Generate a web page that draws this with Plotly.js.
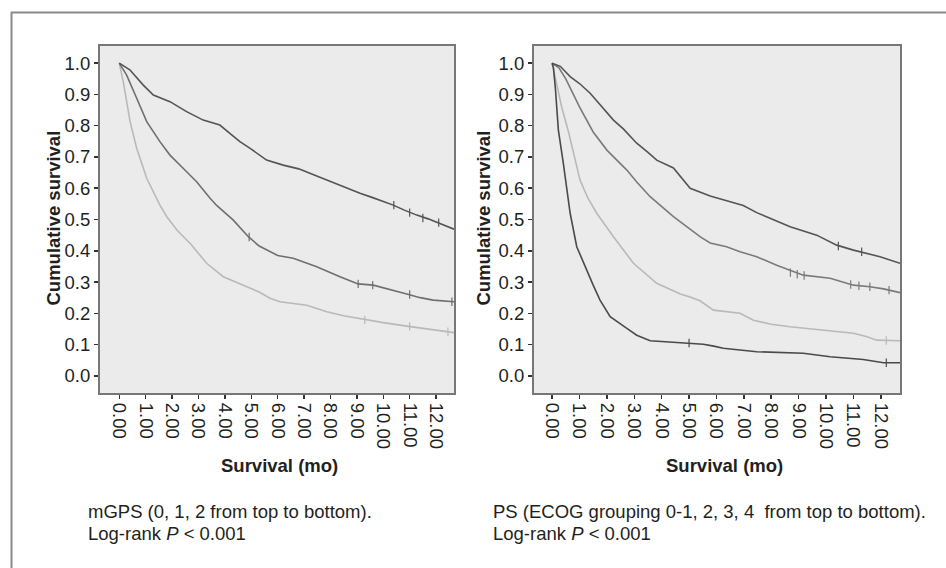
<!DOCTYPE html>
<html>
<head>
<meta charset="utf-8">
<script src="https://cdn.plot.ly/plotly-3.0.1.min.js"></script>
<style>html,body{margin:0;padding:0;background:#fff;}#chart{width:946px;height:568px;}</style>
</head>
<body>
<div id="chart"></div>
<script>
// ---- Left panel: mGPS ----
const mgps0T = [0, 0.4, 0.91, 1.29, 1.92, 2.55, 3.18, 3.81, 4.2, 4.57, 5.0, 5.58, 6.21, 6.8, 7.22, 7.7, 8.11, 8.6, 9.12, 9.6, 10.38, 10.8, 11.27, 11.7, 12.15, 12.68];
const mgps0S = [1, 0.979, 0.930, 0.898, 0.877, 0.845, 0.818, 0.802, 0.775, 0.749, 0.725, 0.690, 0.674, 0.662, 0.648, 0.632, 0.616, 0.600, 0.584, 0.570, 0.546, 0.530, 0.514, 0.502, 0.488, 0.469];
const mgps1T = [0, 0.28, 0.66, 1.04, 1.54, 1.92, 2.42, 2.93, 3.44, 3.69, 4.32, 4.89, 5.3, 5.71, 6.0, 6.59, 7.48, 8.36, 9.05, 9.62, 10.3, 10.89, 11.4, 11.89, 12.68];
const mgps1S = [1, 0.962, 0.888, 0.813, 0.749, 0.706, 0.664, 0.621, 0.568, 0.545, 0.498, 0.445, 0.415, 0.397, 0.385, 0.376, 0.349, 0.317, 0.294, 0.290, 0.276, 0.262, 0.250, 0.242, 0.237];
const mgps2T = [0, 0.15, 0.41, 0.66, 1.04, 1.54, 1.8, 2.2, 2.68, 3.31, 3.94, 4.83, 5.3, 5.71, 6.09, 7.1, 7.86, 8.5, 9.24, 10.0, 10.89, 11.8, 12.68];
const mgps2S = [1, 0.941, 0.813, 0.728, 0.632, 0.546, 0.509, 0.465, 0.424, 0.360, 0.317, 0.285, 0.268, 0.248, 0.237, 0.226, 0.205, 0.192, 0.180, 0.170, 0.159, 0.148, 0.138];
// censor marks (left)
const mgps0CensT = [10.4, 11.0, 11.5, 12.1];
const mgps0CensS = [0.546, 0.522, 0.505, 0.490];
const mgps1CensT = [4.92, 9.05, 9.6, 11.0, 12.6];
const mgps1CensS = [0.444, 0.294, 0.290, 0.260, 0.237];
const mgps2CensT = [9.3, 11.0, 12.45];
const mgps2CensS = [0.179, 0.158, 0.141];

// ---- Right panel: PS (ECOG) ----
const ps01T = [0, 0.3, 0.66, 1.0, 1.39, 1.8, 2.24, 2.6, 3.09, 3.5, 3.82, 4.43, 5.04, 5.77, 6.4, 6.98, 7.47, 8.1, 8.69, 9.66, 10.39, 11.0, 11.97, 12.7];
const ps01S = [1, 0.99, 0.957, 0.935, 0.904, 0.862, 0.818, 0.790, 0.744, 0.715, 0.690, 0.665, 0.600, 0.575, 0.560, 0.545, 0.522, 0.500, 0.477, 0.450, 0.418, 0.402, 0.381, 0.360];
const ps2T = [0, 0.25, 0.5, 1.0, 1.5, 2.0, 2.73, 3.09, 3.58, 4.43, 5.4, 5.77, 6.37, 6.86, 7.47, 8.2, 9.17, 10.15, 11.0, 11.6, 12.1, 12.7];
const ps2S = [1, 0.985, 0.95, 0.86, 0.78, 0.722, 0.658, 0.620, 0.573, 0.509, 0.445, 0.425, 0.413, 0.397, 0.381, 0.354, 0.322, 0.312, 0.290, 0.285, 0.278, 0.266];
const ps3T = [0, 0.17, 0.35, 0.6, 1.02, 1.3, 1.63, 2.24, 2.97, 3.82, 4.68, 5.04, 5.4, 5.89, 6.86, 7.35, 8.0, 8.69, 9.9, 11.0, 11.5, 11.85, 12.7];
const ps3S = [1, 0.936, 0.86, 0.78, 0.626, 0.57, 0.520, 0.445, 0.360, 0.296, 0.262, 0.252, 0.240, 0.210, 0.200, 0.178, 0.165, 0.157, 0.146, 0.136, 0.125, 0.114, 0.112];
const ps4T = [0, 0.05, 0.12, 0.23, 0.41, 0.66, 0.9, 1.1, 1.27, 1.5, 1.75, 2.12, 2.73, 3.09, 3.58, 4.9, 5.52, 5.9, 6.25, 7.47, 9.17, 9.8, 10.15, 11.36, 11.8, 12.1, 12.7];
const ps4S = [1, 0.985, 0.92, 0.786, 0.680, 0.520, 0.413, 0.37, 0.338, 0.29, 0.242, 0.189, 0.152, 0.130, 0.112, 0.106, 0.101, 0.095, 0.088, 0.077, 0.072, 0.065, 0.061, 0.052, 0.046, 0.042, 0.042];
// censor marks (right)
const ps01CensT = [10.45, 11.3];
const ps01CensS = [0.415, 0.397];
const ps2CensT = [8.7, 8.95, 9.2, 10.9, 11.2, 11.6, 12.3];
const ps2CensS = [0.330, 0.325, 0.321, 0.292, 0.288, 0.285, 0.274];
const ps3CensT = [12.2];
const ps3CensS = [0.113];
const ps4CensT = [5.0, 12.2];
const ps4CensS = [0.105, 0.042];

// ---- Texts ----
const xTickVals = [0,1,2,3,4,5,6,7,8,9,10,11,12];
const yTickVals = [0,0.1,0.2,0.3,0.4,0.5,0.6,0.7,0.8,0.9,1.0];
const yTitle = 'Cumulative survival';
const xTitle = 'Survival (mo)';
const leftCaption1 = 'mGPS (0, 1, 2 from top to bottom).';
const rightCaption1 = 'PS (ECOG grouping 0-1, 2, 3, 4&nbsp; from top to bottom).';
const caption2 = 'Log-rank <i>P</i> &lt; 0.001';

const W = 946, H = 568;
const FONT = 'Liberation Sans, Arial, Helvetica, sans-serif';
const FS = 18.5;
const px = v => v / W;
const py = v => 1 - v / H;

function line(x, y, color, xa, ya, w) {
  return {x, y, type: 'scatter', mode: 'lines', xaxis: xa, yaxis: ya,
    line: {color, width: w || 1.6, shape: 'linear'}, hoverinfo: 'skip', showlegend: false};
}
function cens(x, y, color, xa, ya) {
  return {x, y, type: 'scatter', mode: 'markers', xaxis: xa, yaxis: ya,
    marker: {symbol: 'line-ns-open', size: 6, color: color, line: {color, width: 1.2}}, hoverinfo: 'skip', showlegend: false};
}

const cDark = '#545454', cMid = '#6f6f6f', cLight = '#b9b9b9', cDarkest = '#4a4a4a', cPs2 = '#7a7a7a';

const traces = [
  line(mgps2T, mgps2S, cLight, 'x', 'y'),
  line(mgps1T, mgps1S, cMid, 'x', 'y'),
  line(mgps0T, mgps0S, cDark, 'x', 'y'),
  cens(mgps0CensT, mgps0CensS, cDark, 'x', 'y'),
  cens(mgps1CensT, mgps1CensS, cMid, 'x', 'y'),
  cens(mgps2CensT, mgps2CensS, cLight, 'x', 'y'),
  line(ps3T, ps3S, cLight, 'x2', 'y2'),
  line(ps2T, ps2S, cPs2, 'x2', 'y2'),
  line(ps01T, ps01S, cDark, 'x2', 'y2'),
  line(ps4T, ps4S, cDarkest, 'x2', 'y2'),
  cens(ps01CensT, ps01CensS, cDark, 'x2', 'y2'),
  cens(ps2CensT, ps2CensS, cPs2, 'x2', 'y2'),
  cens(ps3CensT, ps3CensS, cLight, 'x2', 'y2'),
  cens(ps4CensT, ps4CensS, cDarkest, 'x2', 'y2'),
];

function xaxis(domain, range) {
  return {domain, range, tickvals: xTickVals, tickformat: '.2f', tickangle: 90,
    ticks: 'outside', ticklen: 4, tickwidth: 1.5, tickcolor: '#333',
    showline: true, mirror: true, linecolor: '#777', linewidth: 2,
    showgrid: false, zeroline: false, fixedrange: true,
    tickfont: {family: FONT, size: FS, color: '#231f20'}};
}
function yaxis(domain, anchor) {
  return {domain, range: [-0.055, 1.055], tickvals: yTickVals, tickformat: '.1f', anchor,
    ticks: 'outside', ticklen: 4, tickwidth: 1.5, tickcolor: '#333',
    showline: true, mirror: true, linecolor: '#777', linewidth: 2,
    showgrid: false, zeroline: false, fixedrange: true,
    tickfont: {family: FONT, size: FS, color: '#231f20'}};
}

const yDom = [py(393), py(46)];
const layout = {
  width: W, height: H,
  margin: {l: 0, r: 0, t: 0, b: 0, pad: 0},
  paper_bgcolor: '#ffffff',
  plot_bgcolor: '#ebebeb',
  showlegend: false,
  font: {family: FONT, size: FS, color: '#231f20'},
  xaxis: Object.assign(xaxis([px(100), px(454)], [-0.73, 12.68]), {anchor: 'y'}),
  yaxis: yaxis(yDom, 'x'),
  xaxis2: Object.assign(xaxis([px(534), px(900)], [-0.66, 12.7]), {anchor: 'y2'}),
  yaxis2: yaxis(yDom, 'x2'),
  shapes: [
    {type: 'line', xref: 'paper', yref: 'paper', x0: px(11), x1: 1, y0: py(12.5), y1: py(12.5), line: {color: '#8a8a8a', width: 2}},
    {type: 'line', xref: 'paper', yref: 'paper', x0: px(11.5), x1: px(11.5), y0: py(12), y1: 0, line: {color: '#8a8a8a', width: 2}},
  ],
  annotations: [
    {text: '<b>' + yTitle + '</b>', xref: 'paper', yref: 'paper', x: px(52.5), y: py(218), textangle: -90, showarrow: false, xanchor: 'center', yanchor: 'middle', font: {family: FONT, size: FS, color: '#231f20'}},
    {text: '<b>' + yTitle + '</b>', xref: 'paper', yref: 'paper', x: px(482.5), y: py(218), textangle: -90, showarrow: false, xanchor: 'center', yanchor: 'middle', font: {family: FONT, size: FS, color: '#231f20'}},
    {text: '<b>' + xTitle + '</b>', xref: 'paper', yref: 'paper', x: px(279.5), y: py(465), showarrow: false, xanchor: 'center', yanchor: 'middle', font: {family: FONT, size: FS, color: '#231f20'}},
    {text: '<b>' + xTitle + '</b>', xref: 'paper', yref: 'paper', x: px(724.7), y: py(465), showarrow: false, xanchor: 'center', yanchor: 'middle', font: {family: FONT, size: FS, color: '#231f20'}},
    {text: leftCaption1, xref: 'paper', yref: 'paper', x: px(86), y: py(511), showarrow: false, xanchor: 'left', yanchor: 'middle', font: {family: FONT, size: FS, color: '#231f20'}},
    {text: caption2, xref: 'paper', yref: 'paper', x: px(86), y: py(533), showarrow: false, xanchor: 'left', yanchor: 'middle', font: {family: FONT, size: FS, color: '#231f20'}},
    {text: rightCaption1, xref: 'paper', yref: 'paper', x: px(490.7), y: py(511), showarrow: false, xanchor: 'left', yanchor: 'middle', font: {family: FONT, size: FS, color: '#231f20'}},
    {text: caption2, xref: 'paper', yref: 'paper', x: px(490.7), y: py(533), showarrow: false, xanchor: 'left', yanchor: 'middle', font: {family: FONT, size: FS, color: '#231f20'}},
  ],
};

Plotly.newPlot('chart', traces, layout, {displayModeBar: false, staticPlot: true});
</script>
</body>
</html>
